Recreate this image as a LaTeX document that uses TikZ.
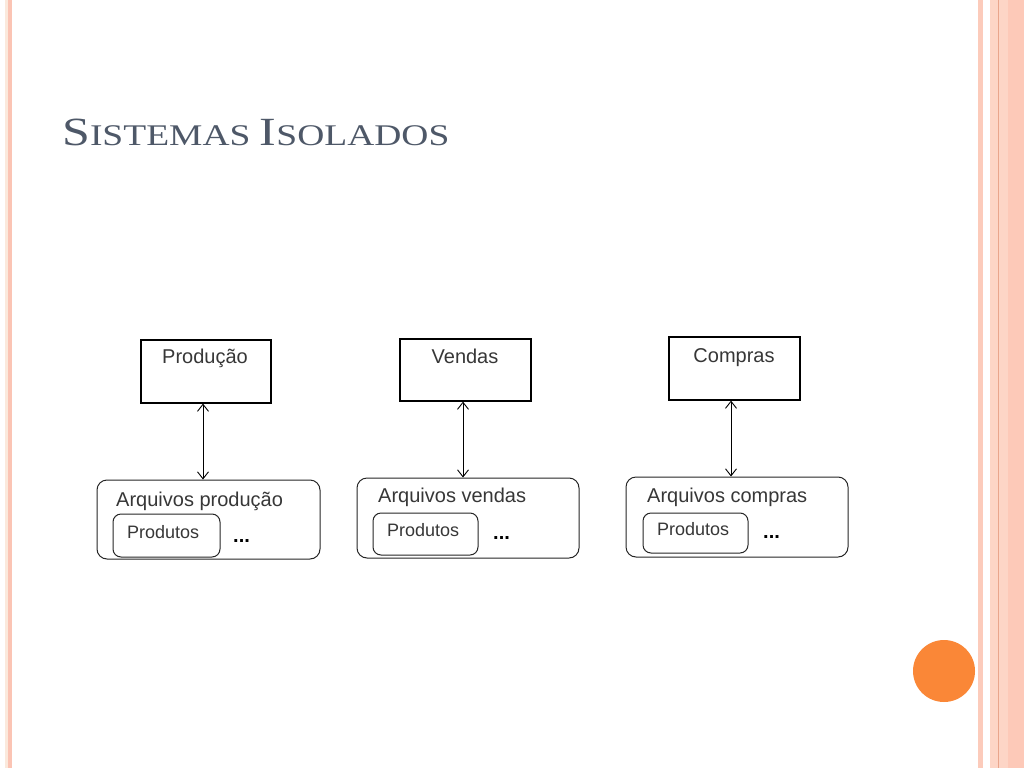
\documentclass[tikz,border=0pt]{standalone}
\usepackage{fontspec}
\setmainfont{Liberation Serif}
\newfontfamily\hand{Liberation Sans}
\usetikzlibrary{arrows.meta}
\definecolor{titlecol}{RGB}{78,88,104}
\definecolor{stripeA}{RGB}{251,233,220}
\definecolor{stripeB}{RGB}{251,196,180}
\definecolor{stripeC}{RGB}{252,203,187}
\definecolor{stripeD}{RGB}{253,213,198}
\definecolor{stripeE}{RGB}{233,165,140}
\definecolor{stripeF}{RGB}{253,201,184}
\definecolor{dotcol}{RGB}{250,135,55}
\definecolor{txtcol}{RGB}{55,55,55}
\tikzset{
  topbox/.style={draw=black, line width=1.2pt, inner sep=0pt, fill=white},
  filebox/.style={draw=black!85, line width=1pt, rounded corners=10pt, inner sep=0pt},
  innerbox/.style={draw=black!85, line width=1pt, rounded corners=8pt, inner sep=0pt},
  handtxt/.style={font=\hand\fontsize{20}{20}\selectfont, text=txtcol, inner sep=0pt},
  smalltxt/.style={font=\hand\fontsize{18}{18}\selectfont, text=txtcol, inner sep=0pt},
  dotstxt/.style={font=\hand\bfseries\fontsize{20}{20}\selectfont, text=black, inner sep=0pt},
  link/.style={line width=0.9pt, {Straight Barb[length=7pt,width=11pt]}-{Straight Barb[length=7pt,width=11pt]}}
}
\begin{document}
\begin{tikzpicture}[x=1pt,y=-1pt]
\useasboundingbox (0,0) rectangle (1024,768);
\fill[white] (0,0) rectangle (1024,768);
% border stripes
\fill[stripeA] (5,0) rectangle (8,768);
\fill[stripeB] (8,0) rectangle (12,768);
\fill[stripeC] (978,0) rectangle (983,768);
\fill[stripeD] (990,0) rectangle (1008,768);
\fill[stripeE] (997.5,0) rectangle (998.8,768);
\fill[stripeF] (1008,0) rectangle (1024,768);
% orange dot
\fill[dotcol] (944,671) circle (31);
% title
\node[anchor=base west, inner sep=0pt, text=titlecol] (title) at (62,145)
  {\scalebox{1.25}[1]{\fontsize{40}{40}\selectfont S\fontsize{30}{30}\selectfont ISTEMAS \fontsize{40}{40}\selectfont I\fontsize{30}{30}\selectfont SOLADOS}};

% column 1
\node[topbox, minimum width=130pt, minimum height=63pt] (t1) at (206,371.5) {};
\node[handtxt, anchor=base] (t1l) at (205,363) {Produção};
\node[filebox, minimum width=223pt, minimum height=79pt] (b1) at (208.5,519.5) {};
\node[handtxt, anchor=base west] (b1l) at (116,506) {Arquivos produção};
\node[innerbox, minimum width=107pt, minimum height=43pt] (i1) at (166.5,535.5) {};
\node[smalltxt, anchor=base west] (i1l) at (127,538) {Produtos};
\node[dotstxt, anchor=base west] (d1) at (233,542) {...};
\coordinate (a1) at (203,0);
\draw[link] (t1.south -| a1) -- (b1.north -| a1);

% column 2
\node[topbox, minimum width=131pt, minimum height=62pt] (t2) at (465.5,370) {};
\node[handtxt, anchor=base] (t2l) at (465,363) {Vendas};
\node[filebox, minimum width=222pt, minimum height=80pt] (b2) at (468,518) {};
\node[handtxt, anchor=base west] (b2l) at (378,502) {Arquivos vendas};
\node[innerbox, minimum width=105pt, minimum height=42pt] (i2) at (425.5,534) {};
\node[smalltxt, anchor=base west] (i2l) at (387,536) {Produtos};
\node[dotstxt, anchor=base west] (d2) at (493,539) {...};
\coordinate (a2) at (463,0);
\draw[link] (t2.south -| a2) -- (b2.north -| a2);

% column 3
\node[topbox, minimum width=131pt, minimum height=63pt] (t3) at (734.5,368.5) {};
\node[handtxt, anchor=base] (t3l) at (734,362) {Compras};
\node[filebox, minimum width=222pt, minimum height=80pt] (b3) at (737,517) {};
\node[handtxt, anchor=base west] (b3l) at (647,502) {Arquivos compras};
\node[innerbox, minimum width=105pt, minimum height=40pt] (i3) at (695.5,533) {};
\node[smalltxt, anchor=base west] (i3l) at (657,535) {Produtos};
\node[dotstxt, anchor=base west] (d3) at (763,538) {...};
\coordinate (a3) at (731,0);
\draw[link] (t3.south -| a3) -- (b3.north -| a3);
\end{tikzpicture}
\end{document}
